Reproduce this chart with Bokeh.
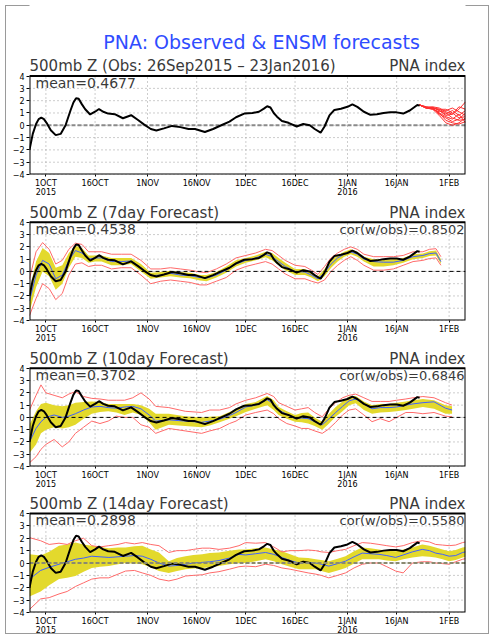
from bokeh.plotting import figure
from bokeh.layouts import column
from bokeh.models import FixedTicker
from bokeh.core.properties import value
from bokeh.embed import file_html
from bokeh.resources import INLINE

# ---------------- data (x = days since 26 Sep 2015) ----------------
x_start, x_end = 0, 133
tick_days = [5, 20, 36, 51, 66, 81, 97, 112, 128]
tick_labels = ["1OCT\n2015", "16OCT", "1NOV", "16NOV", "1DEC", "16DEC", "1JAN\n2016", "16JAN", "1FEB"]
y_ticks = [-4, -3, -2, -1, 0, 1, 2, 3, 4]

obs_day = [0, 1, 2, 2.8, 3.6, 4.4, 5.2, 6.5, 8, 9.5, 11, 12.5, 13.4, 14.2, 15, 16, 17, 18.5, 20,
           21.2, 22.5, 24, 26, 28.5, 31, 33, 35, 37, 38.7, 41, 43.5, 46, 48.5, 50.5, 53.5, 56, 58.5,
           61, 63, 65.5, 68, 70, 71.5, 72.5, 73.5, 74.5, 75.5, 77, 79, 81.5, 83.5, 85.5, 87, 88.8,
           90, 91.5, 93, 95, 97, 98.5, 100, 102, 104, 106, 108, 110, 112, 114, 116, 118.3, 119]
obs_val = [-2.0, -0.7, 0.1, 0.5, 0.62, 0.5, 0.2, -0.4, -0.8, -0.7, 0.0, 1.2, 1.85, 2.2, 2.15, 1.7,
           1.3, 0.88, 1.1, 1.32, 1.1, 0.95, 0.9, 0.57, 0.82, 0.45, 0.05, -0.3, -0.42, -0.25, -0.05,
           -0.15, -0.3, -0.3, -0.55, -0.3, 0.0, 0.3, 0.65, 0.95, 1.0, 1.1, 1.35, 1.55, 1.45, 1.0,
           0.7, 0.35, 0.2, -0.1, 0.1, 0.0, -0.3, -0.6, -0.1, 0.8, 1.25, 1.35, 1.5, 1.7, 1.5, 1.1,
           0.85, 0.9, 1.0, 1.05, 1.05, 0.95, 1.2, 1.65, 1.6]

ens_day = [119, 121, 123, 125, 127, 129, 131, 133]
ens_members = [
    [1.65, 1.45, 1.4, 1.3, 1.0, 0.6, 0.4, 0.5],
    [1.65, 1.4, 1.45, 1.2, 0.8, 0.9, 1.3, 1.9],
    [1.65, 1.5, 1.35, 1.0, 0.4, 0.2, 0.1, 0.3],
    [1.65, 1.45, 1.3, 1.1, 1.2, 1.4, 1.1, 0.8],
    [1.65, 1.4, 1.4, 0.9, 0.6, 0.3, 0.5, 1.0],
    [1.65, 1.45, 1.5, 1.4, 1.1, 0.9, 1.5, 1.3],
    [1.65, 1.4, 1.3, 0.8, 0.2, 0.0, 0.2, 0.6],
    [1.65, 1.5, 1.45, 1.2, 0.9, 1.2, 0.8, 1.2],
    [1.65, 1.4, 1.35, 1.0, 0.7, 0.5, 0.9, 0.2],
    [1.65, 1.45, 1.4, 1.3, 1.3, 1.0, 0.6, 0.7],
]

# 7-day forecast
fc7_day = [0, 2, 4, 6, 8, 10, 12, 14, 16, 18, 20, 22, 25, 28, 31, 34, 37, 40, 43, 46, 49, 52, 54,
           57, 60, 63, 66, 69, 72, 74, 76, 78, 81, 84, 86, 88, 90, 92, 94, 96, 98, 100, 102, 105,
           108, 111, 114, 117, 120, 122, 124, 125.5]
fc7_mean = [-2.4, -0.3, 0.9, 0.6, -0.6, -0.3, 0.9, 1.7, 1.5, 1.0, 1.1, 1.1, 0.8, 0.8, 0.85, 0.3,
            -0.35, -0.3, -0.15, -0.3, -0.35, -0.5, -0.55, -0.3, 0.1, 0.6, 0.9, 1.1, 1.4, 1.2, 0.8,
            0.4, 0.0, -0.05, -0.3, -0.6, -0.1, 0.6, 1.1, 1.4, 1.6, 1.4, 1.0, 0.8, 0.75, 0.75, 0.9,
            1.2, 1.3, 1.45, 1.5, 0.8]
fc7_lo = [-3.3, -1.3, 0.0, -0.4, -1.5, -1.0, 0.3, 1.2, 1.1, 0.7, 0.8, 0.8, 0.5, 0.5, 0.6, 0.0,
          -0.6, -0.5, -0.4, -0.5, -0.55, -0.75, -0.8, -0.5, -0.1, 0.4, 0.7, 0.9, 1.15, 0.9, 0.5,
          0.1, -0.3, -0.3, -0.5, -0.8, -0.4, 0.3, 0.8, 1.2, 1.4, 1.2, 0.8, 0.4, 0.4, 0.5, 0.7,
          1.0, 1.1, 1.25, 1.3, 0.6]
fc7_hi = [-1.5, 0.8, 1.9, 1.5, 0.3, 0.5, 1.5, 2.1, 1.9, 1.3, 1.3, 1.3, 1.1, 1.1, 1.1, 0.6, -0.1,
          -0.05, 0.05, -0.05, -0.1, -0.3, -0.3, -0.05, 0.4, 0.9, 1.1, 1.3, 1.6, 1.5, 1.1, 0.7,
          0.2, 0.2, -0.1, -0.4, 0.2, 0.9, 1.3, 1.6, 1.8, 1.6, 1.2, 1.0, 1.0, 1.0, 1.1, 1.4, 1.45,
          1.65, 1.7, 1.0]
fc7_min = [-3.6, -2.2, -1.0, -1.4, -2.3, -1.8, -0.3, 0.6, 0.7, 0.4, 0.5, 0.5, 0.2, 0.3, 0.3,
           -0.3, -1.0, -0.8, -0.7, -0.8, -0.9, -1.1, -1.1, -0.8, -0.5, 0.1, 0.4, 0.6, 0.8, 0.6,
           0.2, -0.2, -0.6, -0.6, -0.8, -0.95, -0.7, 0.0, 0.5, 0.9, 1.2, 0.9, 0.5, 0.1, 0.1, 0.2,
           0.5, 0.8, 0.9, 1.05, 1.1, 0.5]
fc7_max = [-0.6, 1.6, 2.35, 1.8, 0.6, 0.9, 1.8, 2.3, 2.2, 1.6, 1.6, 1.6, 1.4, 1.4, 1.4, 0.9, 0.2,
           0.2, 0.3, 0.2, 0.1, -0.05, -0.1, 0.2, 0.6, 1.1, 1.3, 1.5, 1.8, 1.7, 1.3, 0.9, 0.5, 0.4,
           0.1, -0.25, 0.4, 1.1, 1.5, 1.8, 2.0, 1.8, 1.4, 1.2, 1.2, 1.2, 1.3, 1.6, 1.6, 1.8, 1.85,
           1.2]

# 10-day forecast
fc10_day = [0, 2, 3.5, 5, 7.5, 10, 12, 14, 16.5, 19, 21.5, 24, 26.5, 29, 31.5, 34, 36.5, 38.5,
            42.5, 47.5, 52.5, 55, 58, 61, 63, 66, 69, 72.5, 74.5, 76, 78.5, 81, 83, 85, 87, 89.3,
            91, 93.4, 95.5, 97.5, 99.5, 102, 104.5, 107, 109.7, 112, 114.8, 117, 120, 123.4, 126.9,
            128.9]
fc10_mean = [-2.0, -0.9, -0.35, 0.0, 0.2, 0.0, 0.1, 0.3, 0.6, 0.85, 0.9, 0.8, 0.75, 0.85, 0.9,
             0.7, 0.2, -0.3, -0.2, -0.3, -0.4, -0.3, -0.15, 0.15, 0.4, 0.85, 1.0, 1.45, 1.1, 0.6,
             0.25, -0.1, -0.05, -0.1, -0.35, -0.6, -0.2, 0.4, 0.9, 1.35, 1.5, 1.1, 0.7, 0.8, 0.8,
             0.85, 1.0, 1.1, 1.2, 1.27, 0.75, 0.6]
fc10_lo = [-2.9, -2.2, -1.3, -1.0, -0.8, -0.9, -0.8, -0.6, -0.1, 0.3, 0.45, 0.5, 0.4, 0.2, 0.4,
           0.2, -0.4, -1.0, -0.6, -0.7, -0.8, -0.65, -0.4, -0.1, 0.1, 0.45, 0.7, 1.0, 0.6, 0.2,
           -0.1, -0.35, -0.4, -0.5, -0.7, -1.0, -0.6, 0.05, 0.5, 1.0, 1.15, 0.6, 0.3, 0.4, 0.45,
           0.5, 0.6, 0.7, 0.85, 0.7, 0.3, 0.3]
fc10_hi = [-0.6, 0.5, 1.1, 1.2, 1.0, 0.9, 1.0, 1.2, 1.25, 1.3, 1.25, 1.1, 1.1, 1.1, 1.1, 1.0, 0.7,
           0.3, 0.3, 0.1, 0.0, 0.05, 0.1, 0.45, 0.7, 1.1, 1.25, 1.75, 1.4, 0.85, 0.5, 0.2, 0.35,
           0.4, 0.0, -0.35, 0.2, 0.85, 1.3, 1.7, 1.75, 1.3, 1.0, 1.1, 1.1, 1.2, 1.3, 1.4, 1.5, 1.4,
           1.0, 0.9]
fc10_min = [-3.7, -3.2, -2.6, -2.2, -1.8, -2.4, -2.0, -1.3, -0.8, -0.3, -0.5, -0.3, 0.1, 0.0, 0.0,
            -0.6, -0.8, -1.3, -0.9, -1.1, -1.3, -1.1, -0.9, -0.5, -0.3, 0.2, 0.4, 0.6, 0.3, -0.1,
            -0.5, -0.7, -0.9, -0.9, -1.1, -1.3, -1.0, -0.4, 0.2, 0.6, 0.7, 0.2, -0.35, -0.1, -0.35,
            0.0, 0.4, 0.4, 0.3, 0.4, 0.1, 0.05]
fc10_max = [0.6, 1.8, 2.65, 2.0, 1.8, 1.6, 1.9, 2.1, 1.7, 1.55, 1.5, 1.4, 1.4, 1.4, 1.6, 2.0, 1.5,
            0.9, 0.8, 0.5, 0.4, 0.6, 0.6, 0.8, 1.1, 1.4, 1.6, 1.95, 1.7, 1.2, 0.9, 0.6, 0.7, 0.8,
            0.4, 0.05, 0.6, 1.2, 1.6, 1.8, 1.9, 1.6, 1.3, 1.3, 1.3, 1.4, 1.5, 1.6, 1.7, 1.6, 1.2,
            1.0]

# 14-day forecast
fc14_day = [0, 3.4, 6, 9, 11.5, 14, 16.5, 19, 21.5, 24.2, 27, 29.3, 32, 34.4, 37, 39.5, 42.5, 45,
            47.6, 50, 52.7, 55, 57.8, 61, 63.9, 65.9, 69, 72, 74.5, 77, 79.5, 82.2, 85, 87.3, 89,
            91.3, 94, 96.4, 99, 101.5, 104, 106.6, 109, 111.7, 114, 116.8, 119.8, 122, 123.9, 126,
            128, 130, 132.1, 133]
fc14_mean = [-1.3, -0.6, -0.35, -0.1, 0.1, 0.3, 0.4, 0.55, 0.5, 0.45, 0.5, 0.55, 0.6, 0.55, 0.3,
             0.0, -0.25, -0.2, -0.1, 0.0, 0.05, 0.1, 0.2, 0.4, 0.7, 0.65, 0.75, 0.85, 0.7, 0.45,
             0.2, 0.0, 0.05, 0.0, -0.1, -0.25, -0.05, 0.15, 0.5, 0.8, 0.75, 0.7, 0.6, 0.45, 0.65,
             0.9, 1.1, 1.0, 0.8, 0.7, 0.55, 0.6, 0.85, 0.9]
fc14_lo = [-2.7, -2.3, -1.8, -1.3, -1.2, -1.05, -0.7, -0.4, -0.3, -0.25, -0.1, 0.0, -0.05, -0.1,
           -0.35, -0.65, -0.8, -0.65, -0.5, -0.45, -0.4, -0.35, -0.25, -0.1, 0.0, 0.0, 0.15, 0.3,
           0.15, -0.1, -0.3, -0.5, -0.5, -0.5, -0.65, -0.8, -0.6, -0.4, -0.05, 0.3, 0.3, 0.3, 0.2,
           0.15, 0.3, 0.45, 0.55, 0.5, 0.45, 0.3, 0.15, 0.25, 0.45, 0.5]
fc14_hi = [0.7, 0.6, 0.9, 1.4, 1.5, 1.65, 1.5, 1.4, 1.3, 1.2, 1.25, 1.25, 1.35, 1.4, 1.1, 0.85,
           0.15, 0.4, 0.55, 0.65, 0.7, 0.8, 0.85, 1.0, 1.1, 1.1, 1.2, 1.25, 1.1, 0.95, 0.7, 0.45,
           0.4, 0.3, 0.25, 0.15, 0.35, 0.55, 0.95, 1.25, 1.2, 1.1, 1.0, 0.95, 1.1, 1.25, 1.5, 1.4,
           1.25, 1.1, 0.95, 1.05, 1.25, 1.3]
fc14_min = [-3.75, -2.9, -2.8, -2.5, -2.3, -1.9, -1.6, -1.3, -1.2, -1.2, -0.9, -0.65, -0.6, -0.8,
            -1.0, -1.3, -1.45, -1.3, -1.05, -1.0, -0.95, -0.8, -0.7, -0.5, -0.3, -0.25, -0.3, -0.1,
            -0.2, -0.4, -0.5, -0.65, -0.8, -0.9, -1.0, -1.2, -1.0, -0.8, -0.4, -0.1, 0.0, 0.0,
            -0.3, -0.65, -0.8, 0.0, 0.1, 0.1, 0.0, -0.05, -0.1, 0.1, 0.3, 0.35]
fc14_max = [2.05, 1.8, 1.5, 1.6, 1.5, 1.8, 2.0, 1.4, 1.3, 1.4, 1.5, 1.65, 1.55, 1.65, 1.5, 1.4,
            0.85, 1.0, 1.0, 1.1, 1.2, 1.2, 1.1, 1.2, 1.4, 1.65, 1.6, 1.65, 1.3, 0.9, 1.0, 1.0,
            1.05, 1.0, 0.9, 0.85, 1.0, 1.1, 1.4, 1.65, 1.6, 1.5, 1.4, 1.3, 1.4, 1.65, 1.8, 1.7,
            1.5, 1.45, 1.4, 1.45, 1.65, 1.7]

main_title = "PNA: Observed & ENSM forecasts"
headings = ["500mb Z (Obs: 26Sep2015 \u2013 23Jan2016)", "500mb Z (7day Forecast)",
            "500mb Z (10day Forecast)", "500mb Z (14day Forecast)"]
mean_texts = ["mean=0.4677", "mean=0.4538", "mean=0.3702", "mean=0.2898"]
cor_texts = ["", "cor(w/obs)=0.8502", "cor(w/obs)=0.6846", "cor(w/obs)=0.5580"]
right_text = "PNA index"

# ---------------- styling / layout ----------------
FONT = "DejaVu Sans"
TXT = "#3a3a3a"
YELLOW = "#e3d92c"
RED = "#ff6a6a"
BLUE = "#4060ff"
PX_PER_UNIT = 99 / 8.0     # 8 y-units over a 99 px box
W = 494
LEFT, RIGHT = 29, 29


def make_panel(height, bottom, idx):
    frame_h = height - bottom
    y_top = -4 + frame_h / PX_PER_UNIT
    p = figure(width=W, height=height, x_range=(x_start, x_end), y_range=(-4, y_top),
               output_backend="svg", toolbar_location=None, title=None,
               min_border_left=LEFT, min_border_right=RIGHT, min_border_top=0,
               min_border_bottom=bottom)
    p.background_fill_color = "white"
    p.border_fill_alpha = 0
    p.outline_line_color = None
    p.xgrid.visible = False
    p.ygrid.visible = False

    p.xaxis.ticker = FixedTicker(ticks=tick_days)
    p.xaxis.major_label_overrides = {d: t for d, t in zip(tick_days, tick_labels)}
    p.yaxis.ticker = FixedTicker(ticks=y_ticks)
    for ax in (p.xaxis, p.yaxis):
        ax.axis_line_color = None
        ax.minor_tick_line_color = None
        ax.major_tick_in = 0
        ax.major_tick_out = 3
        ax.major_tick_line_color = "black"
        ax.major_label_text_font = FONT
        ax.major_label_text_font_size = "8px"
        ax.major_label_text_color = "black"
        ax.major_label_standoff = 2
    p.xaxis.major_tick_out = 2
    p.xaxis.major_label_text_line_height = 1.0

    # dotted grid inside the box
    n, m = len(tick_days), len(y_ticks)
    p.segment(x0=tick_days, y0=[y_ticks[0]] * n, x1=tick_days, y1=[y_ticks[-1]] * n,
              line_color="#9a9a9a", line_dash="1 3", line_width=1)
    p.segment(x0=[x_start] * m, y0=y_ticks, x1=[x_end] * m, y1=y_ticks,
              line_color="#9a9a9a", line_dash="1 3", line_width=1)

    # texts
    p.text(x=[x_start], y=[4.78], text=[headings[idx]], text_align="left",
           text_baseline="middle", text_font=value(FONT), text_font_size="15px",
           text_color=TXT)
    p.text(x=[x_end], y=[4.78], text=[right_text], text_align="right",
           text_baseline="middle", text_font=value(FONT), text_font_size="15px",
           text_color=TXT)
    p.text(x=[x_start], y=[3.45], x_offset=6, text=[mean_texts[idx]], text_align="left",
           text_baseline="middle", text_font=value(FONT), text_font_size="14px",
           text_color=TXT)
    if cor_texts[idx]:
        p.text(x=[x_end], y=[3.45], x_offset=-1, text=[cor_texts[idx]], text_align="right",
               text_baseline="middle", text_font=value(FONT), text_font_size="13px",
               text_color=TXT)
    return p


def zero_line(p, color, width, dash):
    p.segment(x0=[x_start], y0=[0], x1=[x_end], y1=[0], line_color=color,
              line_width=width, line_dash=dash)


def box(p):
    p.quad(left=[x_start], right=[x_end], bottom=[y_ticks[0]], top=[y_ticks[-1]],
           fill_alpha=0, line_color="black", line_width=2)


def add_forecast(p, day, lo, hi, mn, rmin, rmax):
    p.varea(x=day, y1=lo, y2=hi, fill_color=YELLOW, fill_alpha=1.0)
    p.line(day, rmin, line_color=RED, line_width=1)
    p.line(day, rmax, line_color=RED, line_width=1)
    p.line(day, mn, line_color=BLUE, line_width=1)


# panel 1: observed + ensemble members
p1 = make_panel(199, 24, 0)
zero_line(p1, "#8a8a8a", 2, "4 2")
p1.multi_line([ens_day] * len(ens_members), ens_members, line_color="#ff3030", line_width=1)
p1.line(obs_day, obs_val, line_color="black", line_width=2)
box(p1)
p1.text(x=[70.8], y=[6.75], text=[main_title], text_align="center", text_baseline="middle",
        text_font=value(FONT), text_font_size="19px", text_color="#2f4cff")

p2 = make_panel(146, 24, 1)
add_forecast(p2, fc7_day, fc7_lo, fc7_hi, fc7_mean, fc7_min, fc7_max)
p2.line(obs_day, obs_val, line_color="black", line_width=2)
zero_line(p2, "black", 1, "4 3")
box(p2)

p3 = make_panel(146, 24, 2)
add_forecast(p3, fc10_day, fc10_lo, fc10_hi, fc10_mean, fc10_min, fc10_max)
p3.line(obs_day, obs_val, line_color="black", line_width=2)
zero_line(p3, "black", 1, "4 3")
box(p3)

p4 = make_panel(148, 27, 3)
add_forecast(p4, fc14_day, fc14_lo, fc14_hi, fc14_mean, fc14_min, fc14_max)
p4.line(obs_day, obs_val, line_color="black", line_width=2)
zero_line(p4, "#8a8a70", 2, "4 2")
box(p4)

layout = column(p1, p2, p3, p4, spacing=0,
                styles={"outline": "1px solid #9a9a9a", "outline-offset": "-6px"})

open("out.html", "w").write(file_html(layout, INLINE))
